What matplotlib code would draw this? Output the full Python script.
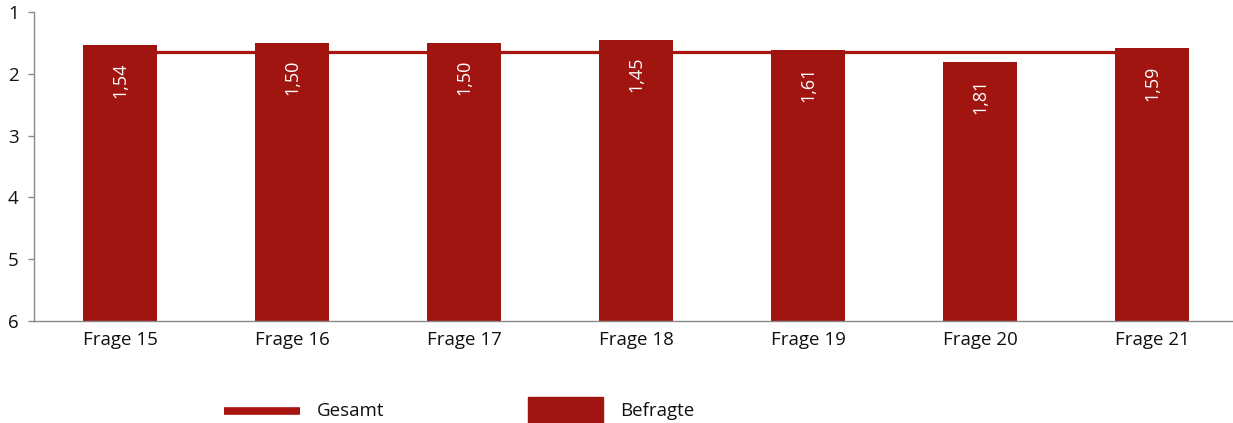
import matplotlib
matplotlib.use("Agg")
import matplotlib.pyplot as plt
from matplotlib.lines import Line2D
from matplotlib.patches import Rectangle

categories = ["Frage 15", "Frage 16", "Frage 17", "Frage 18", "Frage 19", "Frage 20", "Frage 21"]
befragte = [1.54, 1.50, 1.50, 1.45, 1.61, 1.81, 1.59]
gesamt = 1.65
y_ticks = [1, 2, 3, 4, 5, 6]

bar_color = "#A11510"
line_color = "#A81410"
axis_color = "#8a8a8a"
font = ["Open Sans", "DejaVu Sans"]
plt.rcParams["font.family"] = font

W, H = 1233, 423
fig = plt.figure(figsize=(W / 100, H / 100), dpi=100)
ax = fig.add_axes([34 / W, 1 - 321 / H, 1204 / W, (321 - 12) / H])

x = list(range(len(categories)))
base = 6
# overall mean drawn from first to last category, behind the bars
ax.plot([x[0], x[-1]], [gesamt, gesamt], color=line_color, lw=2.3, zorder=1,
        solid_capstyle="butt")
ax.bar(x, [v - base for v in befragte], bottom=base, width=0.425, color=bar_color, zorder=2)

for xi, v in zip(x, befragte):
    ax.annotate(f"{v:.2f}".replace(".", ","), (xi, v), xytext=(0, -25), textcoords="offset points",
                rotation=90, ha="center", va="center", color="white", fontsize=13, zorder=3)

ax.set_xlim(-0.5, len(categories) - 0.5)
ax.set_ylim(6, 1)
ax.set_yticks(y_ticks)
ax.set_yticklabels([str(t) for t in y_ticks])
ax.set_xticks(x)
ax.set_xticklabels(categories)
ax.tick_params(axis="x", length=0, pad=7, labelsize=13.5, labelcolor="#111111")
ax.tick_params(axis="y", length=4, width=1, color=axis_color, pad=7, labelsize=13.5,
               labelcolor="#111111")
for side in ["top", "right"]:
    ax.spines[side].set_visible(False)
for side in ["left", "bottom"]:
    ax.spines[side].set_color(axis_color)
    ax.spines[side].set_linewidth(1)

# legend
fig.add_artist(Line2D([224 / W, 300 / W], [1 - 411 / H] * 2, color=line_color, lw=5.5,
                      solid_capstyle="butt", transform=fig.transFigure))
fig.text(317 / W, 1 - 411 / H, "Gesamt", ha="left", va="center", fontsize=13.5, color="#111111")
fig.add_artist(Rectangle((528 / W, 1 - 423 / H), 75 / W, 26 / H, color=bar_color,
                         transform=fig.transFigure))
fig.text(620 / W, 1 - 411 / H, "Befragte", ha="left", va="center", fontsize=13.5, color="#111111")

fig.savefig("out.png", dpi=100)
